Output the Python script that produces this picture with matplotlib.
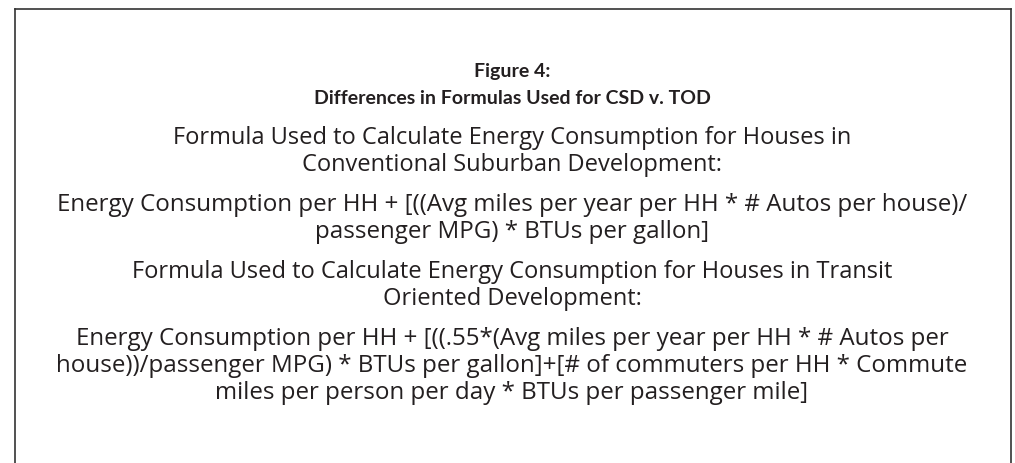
import matplotlib.pyplot as plt
from matplotlib.lines import Line2D

# figure heading
title_lines = ["Figure 4:", "Differences in Formulas Used for CSD v. TOD"]

# body blocks (each block is a list of centred lines)
labels_csd = ["Formula Used to Calculate Energy Consumption for Houses in",
              "Conventional Suburban Development:"]
formula_csd = ["Energy Consumption per HH + [((Avg miles per year per HH * # Autos per house)/",
               "passenger MPG) * BTUs per gallon]"]
labels_tod = ["Formula Used to Calculate Energy Consumption for Houses in Transit",
              "Oriented Development:"]
formula_tod = ["Energy Consumption per HH + [((.55*(Avg miles per year per HH * # Autos per",
               "house))/passenger MPG) * BTUs per gallon]+[# of commuters per HH * Commute",
               "miles per person per day * BTUs per passenger mile]"]

W, H = 1015, 463
fig = plt.figure(figsize=(W / 100, H / 100), dpi=100)
txt = "#231f20"

# box: left, top, right sides only (bottom is cut off)
x0, x1, y0 = 14.5 / W, 1010.5 / W, 1 - 8.5 / H
for xs, ys in [([x0, x0], [0, y0]), ([x0, x1], [y0, y0]), ([x1, x1], [y0, 0])]:
    fig.add_artist(Line2D(xs, ys, color="#333333", lw=1.2, transform=fig.transFigure))

cx = 512 / W
line_h = 27
y = 72
for t in title_lines:
    fig.text(cx, 1 - y / H, t, ha="center", va="center", fontsize=14,
             fontweight="bold", family="Lato", color=txt)
    y += line_h

y = 138
for blk, fs in [(labels_csd, 17), (formula_csd, 17.4), (labels_tod, 17), (formula_tod, 17.4)]:
    for t in blk:
        fig.text(cx, 1 - y / H, t, ha="center", va="center", fontsize=fs,
                 family="Open Sans", color=txt)
        y += line_h
    y += 13

fig.savefig("out.png", dpi=100)
